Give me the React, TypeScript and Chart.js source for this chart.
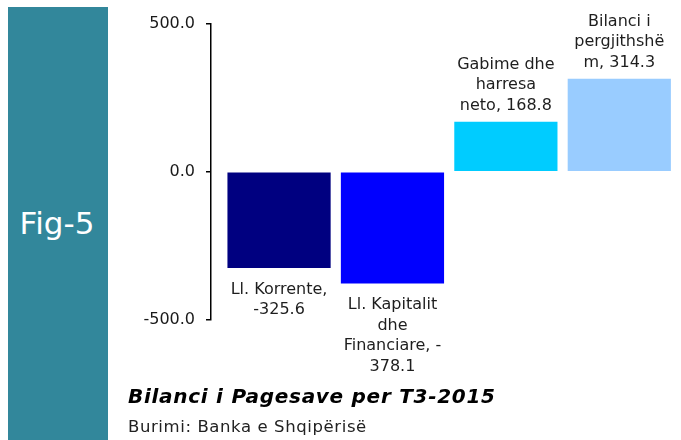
import React, { useEffect, useRef } from "react";
import { Chart, registerables } from "chart.js";

Chart.register(...registerables);

// ---- data ----
const categories = [
  "Ll. Korrente",
  "Ll. Kapitalit dhe Financiare",
  "Gabime dhe harresa neto",
  "Bilanci i pergjithshëm",
];
const values = [-325.6, -378.1, 168.8, 314.3];
const barColors = ["#000080", "#0000FF", "#00CCFF", "#99CCFF"];
const yMin = -500;
const yMax = 500;
const yStep = 500;
const titleText = "Bilanci i Pagesave per T3-2015";
const sourceText = "Burimi: Banka e Shqipërisë";
const figLabel = "Fig-5";

const fmt = (v: number) => v.toFixed(1);
// data labels, wrapped the way the source wraps them
const labelLines: string[][] = [
  [`${categories[0]},`, fmt(values[0])],
  ["Ll. Kapitalit", "dhe", "Financiare, -", fmt(Math.abs(values[1]))],
  ["Gabime dhe", "harresa", `neto, ${fmt(values[2])}`],
  ["Bilanci i", "pergjithshë", `m, ${fmt(values[3])}`],
];

const FONT = "'DejaVu Sans', Verdana, sans-serif";

const dataLabelPlugin = {
  id: "dataLabels",
  afterDatasetsDraw(chart: any) {
    const ctx = chart.ctx;
    const meta = chart.getDatasetMeta(0);
    const lh = 20.5;
    ctx.save();
    ctx.font = `16px ${FONT}`;
    ctx.fillStyle = "#1e1e1e";
    ctx.textAlign = "center";
    ctx.textBaseline = "middle";
    meta.data.forEach((el: any, i: number) => {
      const { x, y } = el.getProps(["x", "y"], true);
      const lines = labelLines[i];
      if (values[i] >= 0) {
        const last = y - 16.5;
        lines.forEach((ln, j) => {
          ctx.fillText(ln, x, last - (lines.length - 1 - j) * lh);
        });
      } else {
        const first = y + 21.5;
        lines.forEach((ln, j) => {
          ctx.fillText(ln, x, first + j * lh);
        });
      }
    });
    ctx.restore();
  },
};

export default function App() {
  const canvasRef = useRef<HTMLCanvasElement | null>(null);

  useEffect(() => {
    if (!canvasRef.current) return;
    const chart = new Chart(canvasRef.current, {
      type: "bar",
      data: {
        datasets: [
          {
            data: values.map((v, i) => ({ x: i, y: v })),
            backgroundColor: barColors,
            borderWidth: 0,
            categoryPercentage: 1,
            barPercentage: 0.91,
          },
        ],
      },
      options: {
        responsive: false,
        animation: false,
        devicePixelRatio: 1,
        layout: { padding: { top: 24, bottom: 120.5, left: 0, right: 5 } },
        plugins: {
          legend: { display: false },
          tooltip: { enabled: false },
        },
        scales: {
          x: {
            type: "linear",
            display: false,
            offset: false,
            min: -0.6,
            max: 3.5,
            afterBuildTicks: (scale: any) => {
              scale.ticks = values.map((_, i) => ({ value: i }));
            },
          },
          y: {
            min: yMin,
            max: yMax,
            afterFit: (scale: any) => {
              scale.width = 211;
            },
            ticks: {
              stepSize: yStep,
              padding: 11,
              color: "#1a1a1a",
              font: { family: FONT, size: 16 },
              callback: (v: any) => Number(v).toFixed(1),
            },
            grid: {
              drawOnChartArea: false,
              drawTicks: true,
              tickLength: 5,
              color: "#000",
              lineWidth: 1.5,
            },
            border: { display: true, color: "#000", width: 1.5 },
          },
        },
      },
      plugins: [dataLabelPlugin],
    });
    return () => chart.destroy();
  }, []);

  return (
    <div
      style={{
        position: "fixed",
        left: 0,
        top: 0,
        width: 681,
        height: 440,
        background: "#fff",
        overflow: "hidden",
        fontFamily: FONT,
      }}
    >
      <div
        style={{
          position: "absolute",
          left: 8,
          top: 7,
          width: 100,
          height: 433,
          background: "#32879b",
        }}
      />
      <div
        style={{
          position: "absolute",
          left: 7,
          top: 207.5,
          width: 100,
          textAlign: "center",
          color: "#fff",
          fontSize: 31,
          lineHeight: "31px",
          whiteSpace: "nowrap",
        }}
      >
        {figLabel}
      </div>
      <canvas
        ref={canvasRef}
        width={681}
        height={440}
        style={{ position: "absolute", left: 0, top: 0, width: 681, height: 440 }}
      />
      <div
        style={{
          position: "absolute",
          left: 128,
          top: 385.8,
          fontSize: 20,
          lineHeight: "20px",
          fontWeight: "bold",
          fontStyle: "italic",
          letterSpacing: "0.72px",
          color: "#000",
          whiteSpace: "nowrap",
        }}
      >
        {titleText}
      </div>
      <div
        style={{
          position: "absolute",
          left: 128,
          top: 418.7,
          fontSize: 16.5,
          lineHeight: "16.5px",
          letterSpacing: "0.6px",
          color: "#222",
          whiteSpace: "nowrap",
        }}
      >
        {sourceText}
      </div>
    </div>
  );
}
